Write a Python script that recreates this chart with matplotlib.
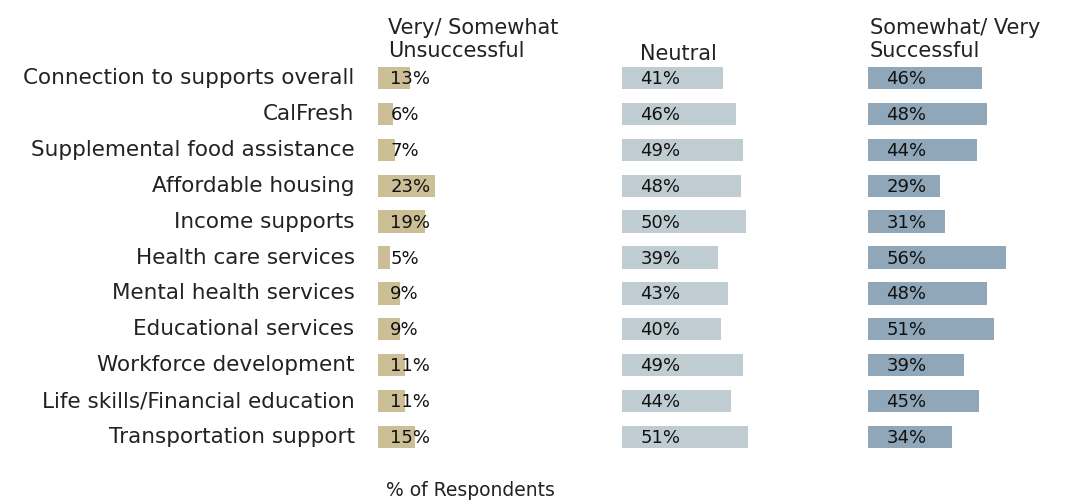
import matplotlib.pyplot as plt

# survey categories and shares per response group
categories = ['Connection to supports overall', 'CalFresh', 'Supplemental food assistance',
              'Affordable housing', 'Income supports', 'Health care services',
              'Mental health services', 'Educational services', 'Workforce development',
              'Life skills/Financial education', 'Transportation support']
unsuccessful = [13, 6, 7, 23, 19, 5, 9, 9, 11, 11, 15]
neutral = [41, 46, 49, 48, 50, 39, 43, 40, 49, 44, 51]
successful = [46, 48, 44, 29, 31, 56, 48, 51, 39, 45, 34]

headers = ['Very/ Somewhat\nUnsuccessful', 'Neutral', 'Somewhat/ Very\nSuccessful']
colors = ['#cdbf95', '#bfcdd3', '#8fa7b9']

plt.rcParams['font.family'] = ['DejaVu Sans']

W, H = 1072, 500
fig = plt.figure(figsize=(W / 100, H / 100), dpi=100)

px_per_pct = 2.47
lefts = [378, 622, 868]
label_off = [5.0, 7.5, 7.5]
top, bottom = 60, 455
xmax = 80

ypos = list(range(len(categories)))
axes = []
for i, (vals, left) in enumerate(zip([unsuccessful, neutral, successful], lefts)):
    ax = fig.add_axes([left / W, 1 - bottom / H, px_per_pct * xmax / W, (bottom - top) / H])
    ax.barh(ypos, vals, height=0.62, color=colors[i])
    for y, v in zip(ypos, vals):
        ax.text(label_off[i], y + 0.03, f'{v}%', va='center', ha='left', fontsize=13,
                color='#111111')
    ax.set_xlim(0, xmax)
    ax.set_ylim(len(categories) - 0.5, -0.5)
    ax.axis('off')
    axes.append(ax)

# category labels to the left of the first panel
for y, c in zip(ypos, categories):
    axes[0].text(-9.5, y, c, va='center', ha='right', fontsize=15.5, color='#222222')

# column headers
fig.text(388 / W, 1 - 57 / H, headers[0], ha='left', va='baseline', fontsize=15,
         color='#222222', linespacing=1.2)
fig.text(640 / W, 1 - 60 / H, headers[1], ha='left', va='baseline', fontsize=15, color='#222222')
fig.text(870 / W, 1 - 57 / H, headers[2], ha='left', va='baseline', fontsize=15,
         color='#222222', linespacing=1.2)

fig.text(386 / W, 1 - 490 / H, '% of Respondents', ha='left', va='center', fontsize=13.5,
         color='#222222')

fig.savefig('out.png', dpi=100, facecolor='white')
